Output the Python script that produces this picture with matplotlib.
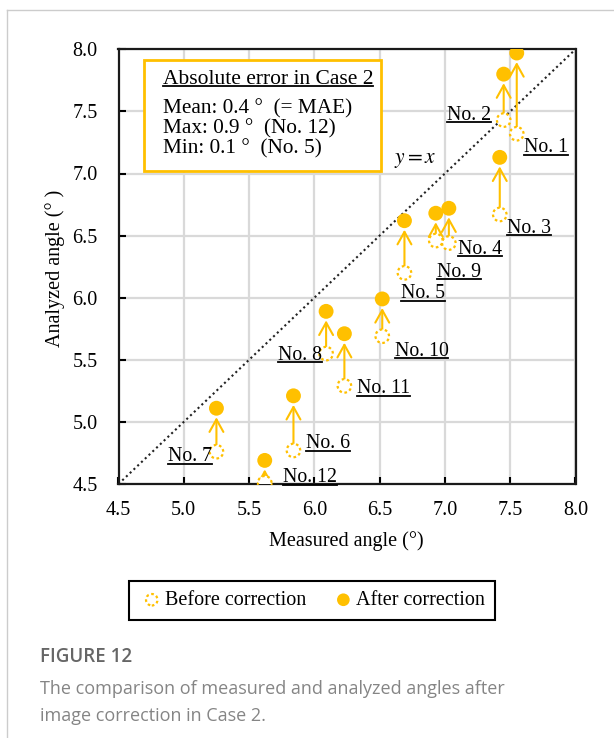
import matplotlib
matplotlib.use("Agg")
import matplotlib.pyplot as plt
from matplotlib.lines import Line2D
from matplotlib.patches import Rectangle

W, H = 614, 738

# data (No. 1 ... No. 12)
labels = ["No. 1", "No. 2", "No. 3", "No. 4", "No. 5", "No. 6",
          "No. 7", "No. 8", "No. 9", "No. 10", "No. 11", "No. 12"]
measured = [7.55, 7.45, 7.42, 7.03, 6.69, 5.84, 5.25, 6.09, 6.93, 6.52, 6.23, 5.62]
before = [7.32, 7.43, 6.67, 6.44, 6.20, 4.77, 4.76, 5.55, 6.46, 5.69, 5.29, 4.51]
after = [7.97, 7.80, 7.13, 6.72, 6.62, 5.21, 5.11, 5.89, 6.68, 5.99, 5.71, 4.69]
ticks = [4.5, 5.0, 5.5, 6.0, 6.5, 7.0, 7.5, 8.0]
tick_labels = ["4.5", "5.0", "5.5", "6.0", "6.5", "7.0", "7.5", "8.0"]
box_lines = ["Mean: 0.4 °  (= MAE)", "Max: 0.9 °  (No. 12)", "Min: 0.1 °  (No. 5)"]

# label placement, pixels from the "before" marker (dx, dy down, align)
label_off = [(7.6, 14, "left"), (-12.6, -5, "right"), (7.3, 14, "left"),
             (9, 6, "left"), (-3.3, 20.7, "left"), (12.7, -6.7, "left"),
             (-4, 5, "right"), (-4.3, 1.7, "right"), (1.3, 31.7, "left"),
             (12.3, 15, "left"), (12.3, 3, "left"), (18.4, -5, "left")]

gold = "#FFC000"
serif = "Liberation Serif"
plt.rcParams["font.family"] = serif
plt.rcParams["mathtext.fontset"] = "stix"


def fp(x, y):
    return x / W, 1 - y / H


fig = plt.figure(figsize=(W / 100, H / 100), dpi=100)
ax = fig.add_axes([118.5 / W, 1 - 484 / H, 457 / W, 434.7 / H])
ax.set_xlim(ticks[0], ticks[-1])
ax.set_ylim(ticks[0], ticks[-1])
ax.set_xticks(ticks, tick_labels, fontsize=14.5)
ax.set_yticks(ticks, tick_labels, fontsize=14.5)
ax.tick_params(direction="in", length=5, width=1.5, top=False, right=False)
ax.tick_params(axis="x", pad=12)
ax.tick_params(axis="y", pad=15)
ax.grid(True, color="#d9d9d9", lw=1.6, zorder=0)
ax.set_axisbelow(True)
for s in ax.spines.values():
    s.set_linewidth(1.6)
    s.set_color("#1a1a1a")

ax.plot([ticks[0], ticks[-1]], [ticks[0], ticks[-1]], ls=(0, (1, 1.5)),
        color="#222222", lw=1.5, zorder=2)
fig.text(*fp(415, 161), "$y = x$", fontsize=15.5, ha="center", va="center")

for i in range(len(labels)):
    ax.annotate("", xy=(measured[i], after[i]), xytext=(measured[i], before[i]),
                arrowprops=dict(arrowstyle="->,head_length=0.9,head_width=0.5",
                                color=gold, lw=1.5, shrinkA=4, shrinkB=6.5,
                                mutation_scale=10), zorder=3)

sc_b = ax.scatter(measured, before, s=95, facecolors="white", edgecolors=gold,
                  linewidths=1.6, linestyles=(0, (1.2, 1.2)), zorder=4,
                  label="Before correction")
sc_a = ax.scatter(measured, after, s=115, color=gold, edgecolors="none",
                  zorder=5, label="After correction")

ul_texts = []
for i, lab in enumerate(labels):
    dx, dy, ha = label_off[i]
    t = ax.annotate(lab, xy=(measured[i], before[i]), xytext=(dx, -dy),
                    textcoords="offset pixels", ha=ha, va="center",
                    fontsize=14.3, zorder=6)
    ul_texts.append(t)

# info box
fig.add_artist(Rectangle(fp(144, 171), 237 / W, 111 / H, transform=fig.transFigure,
                         facecolor="white", edgecolor=gold, lw=2, zorder=5))
t = fig.text(*fp(162.7, 79), "Absolute error in Case 2", fontsize=15.5,
             ha="left", va="center", zorder=6)
ul_texts.append(t)
for k, line in enumerate(box_lines):
    fig.text(*fp(162.7, 108.5 + 20 * k), line, fontsize=15.3, ha="left",
             va="center", zorder=6)

# axis labels
fig.text(*fp(346.7, 541), "Measured angle (°)", fontsize=14.5, ha="center", va="center")
fig.text(*fp(55, 268), "Analyzed angle (° )", fontsize=14.5, ha="center",
         va="center", rotation=90)

leg = fig.legend([sc_b, sc_a], ["Before correction", "After correction"],
                 loc="center", bbox_to_anchor=fp(312, 600.5), ncol=2,
                 fontsize=14.5, frameon=True, fancybox=False, edgecolor="black",
                 framealpha=1, handletextpad=0.0, columnspacing=1.2,
                 borderpad=0.5, markerscale=0.85, handlelength=1.3,
                 borderaxespad=0)
leg.get_frame().set_linewidth(1.5)

# caption
fig.text(*fp(40, 657), "FIGURE 12", fontsize=13.5, family="Open Sans",
         weight="semibold", color="#666666", ha="left", va="center")
fig.text(*fp(40, 689), "The comparison of measured and analyzed angles after",
         fontsize=13, family="Open Sans", color="#858585", ha="left", va="center")
fig.text(*fp(40, 716), "image correction in Case 2.",
         fontsize=13, family="Open Sans", color="#858585", ha="left", va="center")

# card border
fig.add_artist(Line2D([7 / W, 1], [1 - 10 / H, 1 - 10 / H], transform=fig.transFigure,
                      color="#cccccc", lw=1))
fig.add_artist(Line2D([7 / W, 7 / W], [0, 1 - 10 / H], transform=fig.transFigure,
                      color="#cccccc", lw=1))

# underline the labels
fig.canvas.draw()
r = fig.canvas.get_renderer()
for t in ul_texts:
    bb = t.get_window_extent(r)
    y = (bb.y0 + 2.5) / H
    fig.add_artist(Line2D([bb.x0 / W, bb.x1 / W], [y, y], transform=fig.transFigure,
                          color="black", lw=1.3, zorder=7))

fig.savefig("out.png", dpi=100)
